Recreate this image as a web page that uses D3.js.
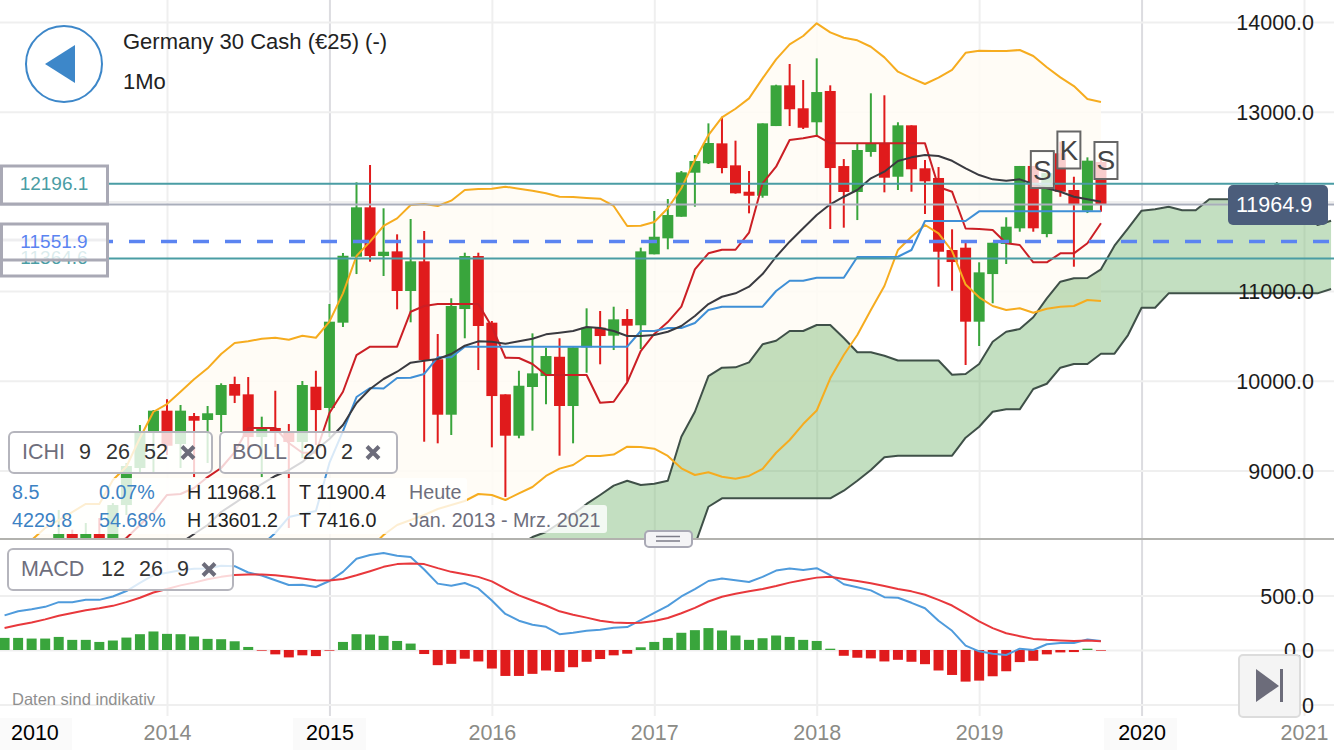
<!DOCTYPE html>
<html lang="de">
<head>
<meta charset="utf-8">
<title>Germany 30 Cash</title>
<script src="https://cdn.jsdelivr.net/npm/d3@7"></script>
<style>
  html, body { margin: 0; padding: 0; background: #fff; overflow: hidden; }
  text { font-family: "Liberation Sans", Arial, sans-serif; }
</style>
</head>
<body>
<script>
// monthly candles, first one is May 2013 (month index -8, Jan 2014 = 0)
var candleStart = -8;
var opens = [8091,8292,8150,8292,8169,8615,9028,9429,
  9667,9295,9607,9563,9619,9964,9849,9373,9474,9440,9318,9934,
  9697,10648,11383,11934,11391,11443,11001,11332,10240,9622,10800,11391,
  10648,9849,9388,9931,10053,10268,9719,10373,10592,10503,10689,10619,
  11410,11588,11829,12320,12425,12647,12402,12108,12063,12840,13294,13038,
  12882,13231,12394,12105,12551,12647,12275,12848,12369,12261,11458,11484,
  10659,11190,11525,11700,12395,11636,12536,12127,11896,12439];
var highs = [8560,8340,8415,8470,8637,9084,9507,9674,
  9793,9730,9641,9719,9972,10046,10042,9600,9889,9518,9998,10112,
  10856,11425,12213,12406,11923,11633,11804,11670,10522,10920,11428,11428,
  10667,9849,10112,10529,10369,10474,10373,10808,10778,10826,10800,11484,
  11893,12027,12339,12517,12870,12944,12677,12339,12870,13301,13532,13353,
  13595,13294,12472,12640,13205,13183,12882,12848,12461,12383,11689,11570,
  11321,11539,11823,12395,12395,12316,12665,12275,12491,12461];
var lows = [8002,8050,8050,8050,8002,8504,8972,8972,
  9173,9028,8927,9084,9429,9752,9228,8927,9262,8359,9139,9284,
  9373,10600,11190,11328,11168,10797,10652,9321,9303,9396,10474,10120,
  9258,8705,9359,9444,9738,9165,9303,10090,10184,10343,9990,10354,
  11410,11466,11829,11941,12417,12313,12086,11867,12041,12840,12840,12807,
  12729,11692,11707,11792,12498,12101,12127,12108,11859,11049,11004,10176,
  10388,10864,11302,11662,11662,11600,12052,11272,11870,11885];
var closes = [8292,8170,8292,8200,8615,9050,9418,9667,
  9276,9667,9555,9638,9953,9834,9373,9474,9440,9318,9953,9674,
  10659,11394,11934,11391,11439,11001,11332,10232,9622,10834,11391,10611,
  9830,9388,9945,10083,10276,9719,10373,10592,10499,10685,10614,11443,
  11606,11848,12324,12450,12651,12372,12090,12063,12870,13294,13027,12821,
  13219,12372,12105,12573,12640,12264,12848,12358,12224,11439,11324,10659,
  11209,11539,11718,12395,11700,12316,12108,11960,12454,11960];

// bollinger 20/2, upper and lower from index -10, middle from index 1
var bandStart = -10;
var bollUpper = [8225,8359,8448,8537,8627,8627,8894,9042,9362,9655,
  9741,9878,10017,10139,10299,10421,10440,10469,10480,10458,10503,10480,
  10659,10975,11391,11551,11726,11811,11960,11971,11949,12008,12127,12138,
  12141,12164,12141,12119,12090,12052,12049,12038,12030,11949,11726,11729,
  11770,11923,12146,12461,12740,12937,13033,13149,13372,13584,13751,13844,
  13985,13885,13825,13796,13724,13606,13446,13375,13309,13379,13465,13657,
  13680,13676,13676,13688,13621,13495,13383,13286,13141,13108];
var bollLower = [7900,7900,7900,7900,7900,7900,7900,7900,7900,7900,
  7900,7900,7900,7900,7900,7900,7900,7900,7900,7900,7900,7900,
  7900,7950,8000,8136,8281,8392,8448,8504,8571,8615,8660,8738,
  8727,8671,8744,8816,8939,9021,9061,9162,9162,9178,9265,9262,
  9243,9162,9024,8950,8980,8931,8909,8939,9017,9198,9340,9518,
  9669,10028,10287,10510,10789,11057,11458,11606,11737,11644,11447,11073,
  10931,10834,10789,10808,10759,10804,10826,10834,10901,10890];
var midStart = 1;
var bollMid = [8192,8292,8392,8537,8637,8738,8849,8939,9005,9095,9228,
  9351,9507,9752,9908,10020,10101,10202,10224,10243,10299,10391,10440,
  10436,10413,10440,10469,10518,10536,10555,10600,10588,10555,10499,10499,
  10510,10547,10611,10722,10856,10937,10975,11049,11190,11383,11551,11700,
  11848,11968,12052,12127,12257,12331,12450,12491,12517,12506,12453,12369,
  12294,12246,12230,12246,12194,12146,12108,12052,12023,11996];

// ichimoku 9/26/52
var kijunStart = 7;
var kijun = [8169,8303,8481,8515,8548,
  9084,9440,9819,9920,9914,10031,10034,10076,10262,10262,10380,10380,
  10380,10380,10380,10380,10380,10380,10380,10380,10380,10380,10380,10555,
  10555,10588,10588,10644,10789,10826,10826,10826,10826,11001,11116,11116,
  11149,11149,11149,11380,11380,11380,11383,11458,11781,11781,11781,11781,
  11889,11889,11889,11889,11889,11889,11889,11889,11889,11889];
var tenkanStart = -4;
var tenkan = [8169,8247,8392,8537,
  8727,8738,8805,8927,9028,9206,9474,9474,9474,9306,9198,9198,
  9641,9878,10287,10380,10380,10380,10770,10834,10856,10856,10856,10856,
  10603,10257,10254,10187,10064,10064,10064,10064,9756,9767,9983,10332,
  10522,10655,10826,11243,11421,11461,11461,11651,12202,12387,12684,12703,
  12732,12647,12647,12647,12647,12647,12647,12647,12647,12160,12108,11698,
  11692,11681,11533,11514,11321,11321,11421,11421,11533,11756];
var spanStart = 25;
var spanA = [8002,8169,8258,8314,8415,8515,8627,8727,8831,8886,8838,
  8853,8886,9377,9655,10053,10146,10150,10206,10407,10447,10555,10555,
  10622,10622,10477,10318,10318,10280,10226,10226,10226,10226,10068,10076,
  10187,10436,10547,10577,10708,10919,11105,11143,11146,11243,11506,11700,
  11896,11912,11941,11901,11901,12023,12023,12023,12023,12023,12205,12015,
  11848,11737,11785];
var spanB = [7800,7800,7800,7800,7800,7800,7800,7800,7800,7800,7800,
  7800,7800,7800,8169,8596,8690,8690,8690,8690,8690,8690,8690,
  8690,8690,8775,8886,9005,9147,9165,9165,9165,9165,9165,9366,
  9488,9655,9682,9682,9908,9967,10146,10187,10187,10302,10302,10510,
  10815,10815,10975,10975,10975,10975,10975,10975,10975,10975,10975,10975,
  10975,10975,11023];

// macd 12/26/9 from index -12 (Jan 2013)
var macdStart = -12;
var macdHist = [111,111,105,105,120,93,93,74,87,114,145,170,
  148,145,124,102,99,80,28,-6,-40,-68,-49,-56,
  -6,74,145,142,130,83,59,-37,-139,-127,-80,-105,
  -170,-238,-238,-219,-188,-201,-158,-108,-83,-49,-34,25,
  74,111,158,182,201,179,133,93,108,133,120,93,
  83,12,-53,-71,-77,-105,-90,-108,-130,-188,-229,-290,
  -281,-241,-195,-111,-99,-40,-22,-19,12,-6];
var macdLine = [318,355,374,396,439,439,460,460,491,541,615,686,
  708,732,745,748,773,769,711,683,640,596,599,578,
  633,717,837,871,890,865,853,739,609,590,615,565,
  454,331,269,232,213,145,158,176,185,204,210,275,
  340,405,491,559,633,655,640,624,671,729,748,735,
  751,686,603,575,547,485,479,433,383,269,176,40,
  -12,-34,-46,12,0,53,65,65,96,83];
var macdSignal = [201,229,253,281,315,340,365,383,405,439,479,528,
  559,593,618,649,671,689,692,692,686,671,655,640,
  637,652,686,723,763,788,794,788,751,717,695,671,
  630,562,501,454,408,355,324,297,269,253,247,250,
  266,294,337,386,445,488,516,538,559,587,618,643,
  664,671,652,633,612,587,559,538,507,460,408,337,
  263,201,154,127,102,93,87,83,87,80];

var priceTicks = [14000,13000,12000,11000,10000,9000];
var macdTicks = [500,0,-500];
var yearTicks = [0,12,24,36,48,60,72,84];
var yearLabels = ["2014","2015","2016","2017","2018","2019","2020","2021"];
var boldYears = ["2015","2020"];

var lastPrice = 11964.9, resistance = 12196.1, support = 11364.6, entry = 11551.9;

// S K S order flags: month index and price of the box centre
var flagMonths = [65,67,69], flagLabels = ["S","K","S"], flagPrices = [12355,12573,12456];

var w = 1334, h = 750;
var mainBottom = 539, macdBottom = 716;

var x = d3.scaleLinear().domain([0,84]).range([167,1304]);
var y = d3.scaleLinear().domain([14000,9000]).range([22,470.5]);
var ym = d3.scaleLinear().domain([500,0]).range([595.5,650]);

var svg = d3.select("body").append("svg")
  .attr("width", w).attr("height", h).style("display","block");

var defs = svg.append("defs");
defs.append("clipPath").attr("id","mainClip").append("rect")
  .attr("x",0).attr("y",0).attr("width",w).attr("height",mainBottom);
defs.append("clipPath").attr("id","macdClip").append("rect")
  .attr("x",0).attr("y",mainBottom+2).attr("width",w).attr("height",macdBottom-mainBottom-2);

// grid through the axes, labels get added on top later
function gridX(top, bottom) {
  var g = svg.append("g")
    .attr("transform","translate(0,"+bottom+")")
    .call(d3.axisBottom(x).tickValues(yearTicks).tickSize(top-bottom).tickFormat(""));
  g.select(".domain").remove();
  g.selectAll("line").attr("stroke-width",2)
    .attr("stroke", function(d,i) { return boldYears.indexOf(yearLabels[i])>=0 ? "#dcdce0" : "#efefef"; });
}
function gridY(scale, ticks) {
  var g = svg.append("g")
    .call(d3.axisRight(scale).tickValues(ticks).tickSize(w).tickFormat(""));
  g.select(".domain").remove();
  g.selectAll("line").attr("stroke","#efefef").attr("stroke-width",2);
}
gridX(0, mainBottom);
gridX(mainBottom, macdBottom);
gridY(y, priceTicks);
gridY(ym, macdTicks);

var main = svg.append("g").attr("clip-path","url(#mainClip)");

// bollinger fill
main.append("path").datum(bollUpper)
  .attr("fill","#fffcf5").attr("fill-opacity",0.85)
  .attr("d", d3.area()
    .x(function(d,i) { return x(i+bandStart); })
    .y0(function(d,i) { return y(bollLower[i]); })
    .y1(function(d) { return y(d); }));

// cloud
main.append("path").datum(spanA)
  .attr("fill","#69af64").attr("fill-opacity",0.4)
  .attr("d", d3.area()
    .x(function(d,i) { return x(i+spanStart); })
    .y0(function(d,i) { return y(spanB[i]); })
    .y1(function(d) { return y(d); }));

function drawLine(parent, values, start, scale, color, width) {
  parent.append("path").datum(values)
    .attr("fill","none").attr("stroke",color).attr("stroke-width",width)
    .attr("stroke-linejoin","round")
    .attr("d", d3.line()
      .x(function(d,i) { return x(i+start); })
      .y(function(d) { return scale(d); }));
}
drawLine(main, spanA, spanStart, y, "#3f5048", 2);
drawLine(main, spanB, spanStart, y, "#3f5048", 2);

// candles
var green = "#39a53c", red = "#e01b1c";
var candles = main.selectAll("g.candle").data(opens).enter().append("g").attr("class","candle");
candles.append("line")
  .attr("x1", function(d,i) { return x(i+candleStart); })
  .attr("x2", function(d,i) { return x(i+candleStart); })
  .attr("y1", function(d,i) { return y(highs[i]); })
  .attr("y2", function(d,i) { return y(lows[i]); })
  .attr("stroke-width",2)
  .attr("stroke", function(d,i) { return closes[i]>=d ? green : red; });
candles.append("rect")
  .attr("x", function(d,i) { return x(i+candleStart)-5.5; })
  .attr("width",11)
  .attr("y", function(d,i) { return y(Math.max(d,closes[i])); })
  .attr("height", function(d,i) { return Math.abs(y(d)-y(closes[i])); })
  .attr("fill", function(d,i) { return closes[i]>=d ? green : red; });

drawLine(main, bollUpper, bandStart, y, "#f6ac1f", 2);
drawLine(main, bollLower.slice(25), bandStart+25, y, "#f6ac1f", 2);
drawLine(main, tenkan, tenkanStart, y, "#cb1f25", 2);
drawLine(main, kijun, kijunStart, y, "#3f8fd6", 2);
drawLine(main, bollMid, midStart, y, "#3a3a40", 2);

// price level lines
svg.append("line").attr("x1",0).attr("x2",w).attr("y1",y(lastPrice)).attr("y2",y(lastPrice))
  .attr("stroke","#a9aebb").attr("stroke-width",2);
[resistance, support].forEach(function(v) {
  svg.append("line").attr("x1",108).attr("x2",w).attr("y1",y(v)).attr("y2",y(v))
    .attr("stroke","#4a9da4").attr("stroke-width",2);
});
svg.append("line").attr("x1",1).attr("x2",w).attr("y1",y(entry)).attr("y2",y(entry))
  .attr("stroke","#5b84f1").attr("stroke-width",3.5).attr("stroke-dasharray","16,16");

// level boxes on the left
function levelBox(v, top, bottom, color, fillOp) {
  svg.append("rect").attr("x",1.5).attr("y",top).attr("width",106).attr("height",bottom-top)
    .attr("fill","#fff").attr("fill-opacity",fillOp)
    .attr("stroke","#a9a9b5").attr("stroke-width",3);
  svg.append("text").attr("x",54).attr("y",y(v)+6).attr("text-anchor","middle")
    .attr("font-size",19).attr("fill",color).text(v.toFixed(1));
}
levelBox(resistance, 166, 204, "#4a9da4", 1);
levelBox(support, 240, 276, "#4a9da4", 1);
levelBox(entry, 224, 260, "#5b84f1", 0.8);

// S K S flags
flagLabels.forEach(function(t,i) {
  var cx = x(flagMonths[i]) + (i==0 ? -4.5 : i==1 ? -5 : 5), cy = y(flagPrices[i]);
  svg.append("rect").attr("x",cx-11.5).attr("y",cy-18.5).attr("width",23).attr("height",37)
    .attr("fill","#fff").attr("fill-opacity",0.78).attr("stroke","#666").attr("stroke-width",2);
  svg.append("text").attr("x",cx).attr("y",cy+10).attr("text-anchor","middle")
    .attr("font-size",28).attr("fill","#444").text(t);
});

// macd pane
var macd = svg.append("g").attr("clip-path","url(#macdClip)");
macd.selectAll("rect").data(macdHist).enter().append("rect")
  .attr("x", function(d,i) { return x(i+macdStart)-5; })
  .attr("width",10)
  .attr("y", function(d) { return d>=0 ? ym(d) : ym(0); })
  .attr("height", function(d) { return Math.abs(ym(d)-ym(0)); })
  .attr("fill", function(d) { return d>=0 ? green : red; });
drawLine(macd, macdLine, macdStart, ym, "#4f9bdc", 2);
drawLine(macd, macdSignal, macdStart, ym, "#e8383c", 2);

// pane separator and drag handle
svg.append("line").attr("x1",0).attr("x2",w).attr("y1",mainBottom).attr("y2",mainBottom)
  .attr("stroke","#b2b2ae").attr("stroke-width",2);
svg.append("rect").attr("x",645).attr("y",531).attr("width",47).attr("height",16).attr("rx",4)
  .attr("fill","#f4f4f6").attr("stroke","#a9a9b5").attr("stroke-width",2);
[536.5,541].forEach(function(v) {
  svg.append("line").attr("x1",656).attr("x2",680).attr("y1",v).attr("y2",v)
    .attr("stroke","#7d7d88").attr("stroke-width",1.5);
});

// value axes
function valueAxis(scale, ticks) {
  var g = svg.append("g").attr("transform","translate(1314,0)")
    .call(d3.axisLeft(scale).tickValues(ticks).tickSize(0).tickPadding(0)
      .tickFormat(function(d) { return d.toFixed(1); }));
  g.select(".domain").remove();
  g.selectAll("text").attr("font-size",21.5).attr("fill","#1c1c1c").attr("dy","0.36em")
    .style("font-family",'"Liberation Sans", Arial, sans-serif');
}
valueAxis(y, priceTicks);
valueAxis(ym, macdTicks);

// current price tag
svg.append("rect").attr("x",1228).attr("y",185).attr("width",100).attr("height",40).attr("rx",5)
  .attr("fill","#4b5d7b");
svg.append("text").attr("x",1236).attr("y",212).attr("font-size",21.5).attr("fill","#fff")
  .text(lastPrice.toFixed(1));

// year axis
var bgYears = [[0,72],[293,73],[1104,73]];
bgYears.forEach(function(b) {
  svg.append("rect").attr("x",b[0]).attr("y",718).attr("width",b[1]).attr("height",32).attr("fill","#fafafa");
});
var xAxis = svg.append("g").attr("transform","translate(0,718)")
  .call(d3.axisBottom(x).tickValues(yearTicks).tickSize(0).tickPadding(7)
    .tickFormat(function(d,i) { return yearLabels[i]; }));
xAxis.select(".domain").remove();
xAxis.selectAll("text").attr("font-size",21.5)
  .style("font-family",'"Liberation Sans", Arial, sans-serif')
  .attr("fill", function(d,i) { return boldYears.indexOf(yearLabels[i])>=0 ? "#000" : "#8b8b86"; });
svg.append("text").attr("x",11).attr("y",740).attr("font-size",21.5).attr("fill","#000").text("2010");

svg.append("text").attr("x",12).attr("y",705).attr("font-size",16.5).attr("fill","#8f8f8f")
  .text("Daten sind indikativ");

// info rows, white backing fades the chart behind
svg.append("rect").attr("x",0).attr("y",478).attr("width",467).attr("height",56).attr("rx",3)
  .attr("fill","#fff").attr("fill-opacity",0.8);
svg.append("rect").attr("x",467).attr("y",505).attr("width",140).attr("height",28).attr("rx",3)
  .attr("fill","#fff").attr("fill-opacity",0.8);

var infoBlue = "#3c82c4", infoDark = "#222", infoGray = "#6e6e7c";
var infoRows = [
  [[12,"8.5",infoBlue],[99,"0.07%",infoBlue],[187,"H 11968.1",infoDark],[299,"T 11900.4",infoDark],[409,"Heute",infoGray]],
  [[12,"4229.8",infoBlue],[99,"54.68%",infoBlue],[187,"H 13601.2",infoDark],[299,"T 7416.0",infoDark],[409,"Jan. 2013 - Mrz. 2021",infoGray]]
];
infoRows.forEach(function(row,r) {
  row.forEach(function(c) {
    svg.append("text").attr("x",c[0]).attr("y",r==0 ? 499 : 527).attr("font-size",19.7)
      .attr("fill",c[2]).text(c[1]);
  });
});

// indicator chips
function chip(bx, by, bw, label, labelX, params, closeX) {
  svg.append("rect").attr("x",bx).attr("y",by).attr("width",bw).attr("height",41).attr("rx",5)
    .attr("fill","#fff").attr("fill-opacity",0.8).attr("stroke","#b5b5bd").attr("stroke-width",2);
  svg.append("text").attr("x",labelX).attr("y",by+27).attr("font-size",21.5).attr("fill","#6e6e7c").text(label);
  params.forEach(function(p) {
    svg.append("text").attr("x",p[0]).attr("y",by+27).attr("font-size",21.5).attr("fill","#333").text(p[1]);
  });
  var c = by+20.5;
  [[-6,-6,6,6],[-6,6,6,-6]].forEach(function(s) {
    svg.append("line").attr("x1",closeX+s[0]).attr("y1",c+s[1]).attr("x2",closeX+s[2]).attr("y2",c+s[3])
      .attr("stroke","#6c6c7a").attr("stroke-width",4);
  });
}
chip(9,432,203,"ICHI",22,[[79,"9"],[106,"26"],[144,"52"]],188);
chip(220,432,177,"BOLL",232,[[303,"20"],[341,"2"]],373);
chip(8,549,225,"MACD",21,[[101,"12"],[139,"26"],[177,"9"]],209);

// header
svg.append("circle").attr("cx",64).attr("cy",64).attr("r",38)
  .attr("fill","#fff").attr("stroke","#3d87c9").attr("stroke-width",2);
svg.append("path").attr("d","M45,64L75,45L75,83Z").attr("fill","#3d87c9");
svg.append("text").attr("x",123).attr("y",49).attr("font-size",22).attr("fill","#222")
  .text("Germany 30 Cash (\u20ac25) (-)");
svg.append("text").attr("x",123).attr("y",89).attr("font-size",22).attr("fill","#222").text("1Mo");

// jump to end button
svg.append("rect").attr("x",1239).attr("y",655).attr("width",61).attr("height",62).attr("rx",4)
  .attr("fill","#f4f4f4").attr("stroke","#dcdcdc").attr("stroke-width",2);
svg.append("path").attr("d","M1256,669L1279,686L1256,702Z").attr("fill","#6c6c7a");
svg.append("rect").attr("x",1280).attr("y",669).attr("width",3).attr("height",33).attr("fill","#6c6c7a");
</script>
</body>
</html>
